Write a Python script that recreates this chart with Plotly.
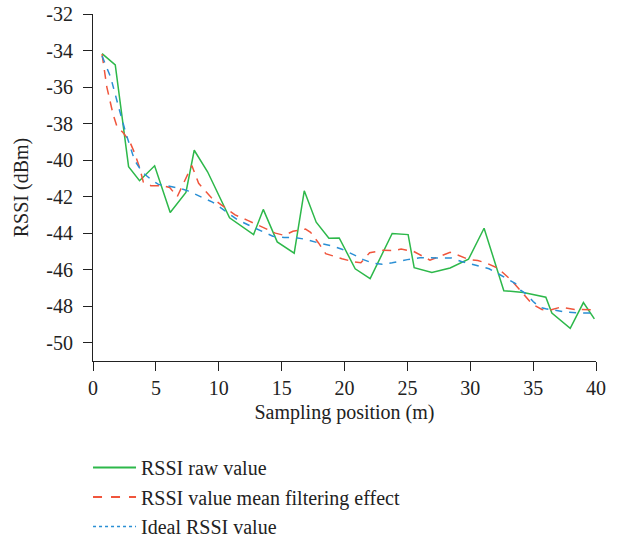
import plotly.graph_objects as go

# RSSI raw value (green)
raw_x = [0.72, 1.77, 2.83, 3.70, 4.90, 6.14, 7.39, 8.05, 9.11, 10.86, 12.77, 13.54, 14.65, 16.0,
         16.8, 17.75, 18.76, 19.58, 20.85, 22.04, 23.79, 25.06, 25.54, 26.95, 28.4, 29.86, 31.1,
         32.67, 34.23, 36.01, 36.49, 37.95, 39.0, 39.87]
raw_y = [-34.17, -34.79, -40.36, -41.13, -40.31, -42.87, -41.77, -39.46, -40.64, -43.16, -44.08,
         -42.70, -44.48, -45.10, -41.68, -43.40, -44.28, -44.26, -45.95, -46.49, -44.02, -44.08,
         -45.89, -46.15, -45.91, -45.43, -43.73, -47.15, -47.25, -47.51, -48.38, -49.21, -47.80,
         -48.69]

# RSSI value after mean filtering (red)
mean_x = [0.72, 1.1, 1.6, 1.9, 2.4, 2.9, 3.3, 3.7, 4.0, 4.6, 5.5, 6.1, 6.7, 7.2, 7.86, 8.4, 9.4,
          10.2, 11.3, 12.3, 13.5, 14.5, 15.2, 15.9, 16.9, 17.3, 17.95, 18.5, 19.8, 20.8, 21.3,
          22.0, 23.1, 24.0, 24.5, 25.5, 26.8, 27.6, 28.4, 29.0, 29.9, 30.6, 31.3, 32.2, 33.3,
          34.0, 34.9, 35.7, 36.3, 37.2, 38.3, 39.9]
mean_y = [-34.2, -36.0, -37.5, -38.15, -38.5, -38.95, -39.6, -40.4, -41.2, -41.4, -41.4, -41.5,
          -42.0, -41.3, -40.3, -41.27, -42.05, -42.45, -43.0, -43.3, -43.67, -44.0, -44.12,
          -43.9, -43.78, -43.95, -44.55, -45.12, -45.4, -45.58, -45.62, -45.07, -44.93, -44.95,
          -44.87, -45.0, -45.48, -45.28, -45.05, -45.2, -45.45, -45.5, -45.64, -45.92, -46.6,
          -47.15, -47.87, -48.18, -48.22, -48.05, -48.18, -48.2]

# Ideal RSSI value (blue)
ideal_x = [0.72, 1.4, 2.0, 2.6, 3.3, 3.9, 4.6, 5.2, 6.0, 7.0, 7.6, 8.5, 9.5, 10.5, 11.5, 12.5,
           13.5, 14.3, 15.2, 16.1, 17.0, 18.0, 19.0, 19.8, 20.8, 21.5, 22.3, 23.0, 23.8, 25.0,
           26.0, 27.5, 28.5, 29.3, 30.5, 31.5, 32.3, 33.0, 33.6, 34.0, 34.5, 35.0, 35.5, 36.0,
           36.7, 37.7, 38.5, 39.9]
ideal_y = [-34.3, -35.45, -37.0, -38.5, -40.0, -40.65, -41.05, -41.33, -41.42, -41.56, -41.7,
           -42.0, -42.3, -42.78, -43.27, -43.6, -43.9, -44.17, -44.24, -44.24, -44.35, -44.55,
           -44.7, -44.88, -45.2, -45.45, -45.65, -45.7, -45.62, -45.45, -45.35, -45.34, -45.36,
           -45.55, -45.76, -45.95, -46.25, -46.52, -46.76, -47.12, -47.36, -47.74, -48.05,
           -48.14, -48.22, -48.33, -48.36, -48.38]

x_ticks = [0, 5, 10, 15, 20, 25, 30, 35, 40]
y_ticks = [-50, -48, -46, -44, -42, -40, -38, -36, -34, -32]
y_labels = ["-50", "-48", "-46", "-44", "-42", "-40", "-38", "-36", "-34", "-32"]

green = "#2db84a"
red = "#f0553c"
blue = "#2a8fd4"
serif = "Liberation Serif, DejaVu Serif, serif"

fig = go.Figure()

fig.add_trace(go.Scatter(x=raw_x, y=raw_y, mode="lines", line=dict(color=green, width=1.5),
                         showlegend=False))
fig.add_trace(go.Scatter(x=mean_x, y=mean_y, mode="lines",
                         line=dict(color=red, width=1.5, dash="9px,7px"), showlegend=False))
fig.add_trace(go.Scatter(x=ideal_x, y=ideal_y, mode="lines",
                         line=dict(color=blue, width=1.5, dash="7px,7px"), showlegend=False))

# legend entries (blue shown dotted like in the original)
fig.add_trace(go.Scatter(x=[None], y=[None], mode="lines", name="RSSI raw value",
                         line=dict(color=green, width=2), legendgroup="a"))
fig.add_trace(go.Scatter(x=[None], y=[None], mode="lines", name="RSSI value mean filtering effect",
                         line=dict(color=red, width=2, dash="dash"), legendgroup="b"))
fig.add_trace(go.Scatter(x=[None], y=[None], mode="lines", name="Ideal RSSI value",
                         line=dict(color=blue, width=1.5, dash="dot"), legendgroup="c"))

# figure is a bit taller than the window (only empty legend padding is cut),
# plot area sits in the top part of the paper so the legend stays inside it
fig.update_layout(
    width=620, height=556,
    paper_bgcolor="white", plot_bgcolor="white",
    font=dict(family=serif, size=20, color="#222"),
    margin=dict(l=93, r=24, t=14, b=18, autoexpand=False),
    xaxis=dict(
        range=[0, 40], tickvals=x_ticks, showgrid=False, zeroline=False, automargin=False,
        showline=True, linecolor="#222", linewidth=1.2, ticks="outside", ticklen=9,
        tickcolor="#222", tickfont=dict(size=20), ticklabelstandoff=0,
        title=dict(text="Sampling position (m)", font=dict(size=20), standoff=6),
    ),
    yaxis=dict(
        domain=[0.3378, 1], automargin=False,
        range=[-51, -32], tickvals=y_ticks, ticktext=y_labels, showgrid=False, zeroline=False,
        showline=True, linecolor="#222", linewidth=1.2, ticks="outside", ticklen=9,
        tickcolor="#222", tickfont=dict(size=20), ticklabelstandoff=6,
        title=dict(text="RSSI (dBm)", font=dict(size=20), standoff=12),
    ),
    legend=dict(
        x=-0.0099, y=0.1718, xanchor="left", yanchor="top",
        orientation="v", tracegroupgap=0.5, itemwidth=43,
        font=dict(family=serif, size=20, color="#222"),
        bgcolor="rgba(0,0,0,0)",
    ),
)

fig.write_html("out.html", config={"displayModeBar": False},
               post_script="document.body.style.margin='0';"
                           "document.body.style.overflow='hidden';"
                           "document.documentElement.style.overflow='hidden';")
